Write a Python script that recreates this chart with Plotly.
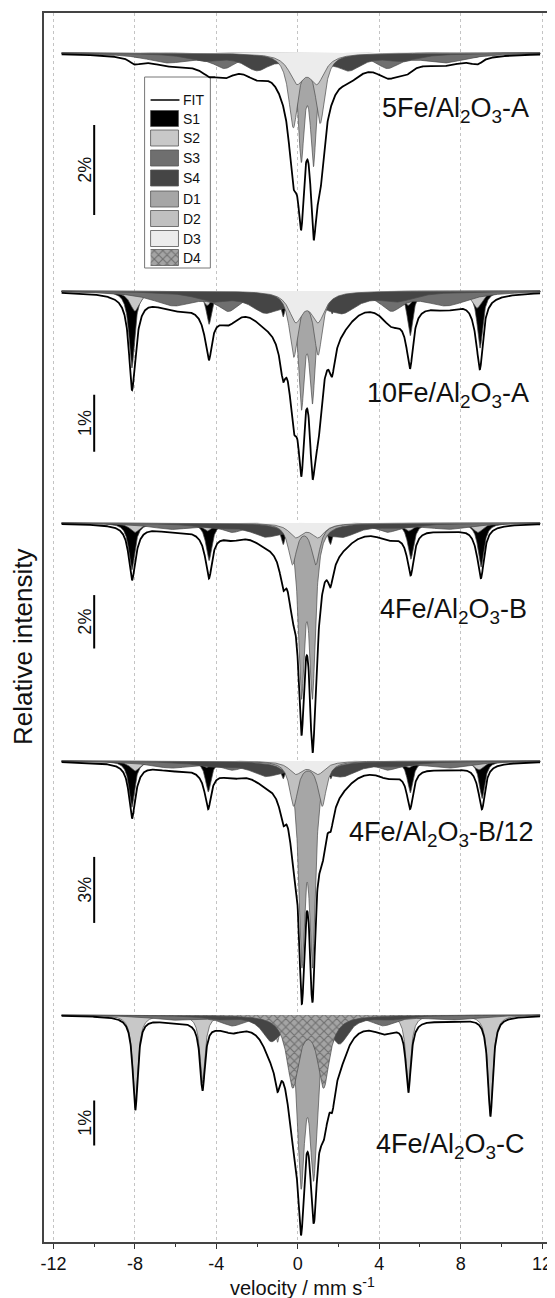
import numpy as np
import plotly.graph_objects as go

# ------------------------------------------------------------------
# Velocity sampling of the fitted spectra (mm/s)
V_START, V_END, N_POINTS = -11.6, 11.9, 1800

# Each component = list of Lorentzian lines: (position mm/s, depth %, FWHM mm/s)
# ---- 5Fe/Al2O3-A
A5_S1 = [(-8.1, 0.05, 0.4), (-4.4, 0.04, 0.4), (5.4, 0.04, 0.4), (8.9, 0.05, 0.4)]
A5_S2 = [(-7.9, 0.10, 0.8), (-4.3, 0.08, 0.8), (-0.7, 0.05, 0.6), (1.6, 0.05, 0.6), (5.2, 0.08, 0.8), (8.7, 0.10, 0.8)]
A5_S3 = [(-6.4, 0.20, 2.6), (-3.6, 0.30, 1.4), (-0.9, 0.12, 1.0), (1.7, 0.12, 1.0), (4.4, 0.30, 1.4), (7.2, 0.20, 2.6)]
A5_S4 = [(-4.6, 0.15, 2.0), (-2.0, 0.35, 1.6), (-0.6, 0.10, 1.0), (1.4, 0.10, 1.0), (2.5, 0.35, 1.6), (5.1, 0.15, 2.0)]
A5_D1 = [(0.17, 2.25, 0.35), (0.77, 2.35, 0.35)]
A5_D2 = [(-0.22, 1.6, 0.55), (1.10, 1.5, 0.55)]
A5_D3 = [(-0.05, 0.6, 0.9), (0.95, 0.6, 0.9)]

# ---- 10Fe/Al2O3-A
A10_S1 = [(-8.15, 1.35, 0.34), (-4.36, 0.58, 0.34), (-0.72, 0.45, 0.30), (1.68, 0.40, 0.30), (5.52, 0.78, 0.34), (8.95, 1.0, 0.34)]
A10_S2 = [(-8.0, 0.35, 0.6), (-4.45, 0.25, 0.6), (-0.8, 0.10, 0.5), (1.7, 0.10, 0.5), (5.42, 0.25, 0.6), (8.8, 0.30, 0.6)]
A10_S3 = [(-6.1, 0.24, 2.6), (-3.4, 0.30, 1.3), (-0.9, 0.20, 1.0), (1.7, 0.20, 1.0), (4.6, 0.30, 1.3), (7.3, 0.24, 2.6)]
A10_S4 = [(-4.2, 0.15, 2.0), (-1.6, 0.33, 1.8), (-0.6, 0.10, 1.0), (1.4, 0.10, 1.0), (2.2, 0.33, 1.8), (4.9, 0.15, 2.0)]
A10_D1 = [(0.18, 1.92, 0.35), (0.72, 1.80, 0.35)]
A10_D2 = [(-0.20, 1.12, 0.5), (1.00, 1.08, 0.5)]
A10_D3 = [(-0.10, 0.5, 0.8), (1.00, 0.5, 0.8)]

# ---- 4Fe/Al2O3-B
B4_S1 = [(-8.15, 1.75, 0.36), (-4.36, 1.4, 0.36), (-0.72, 0.8, 0.30), (1.60, 0.8, 0.30), (5.55, 1.35, 0.36), (9.0, 1.65, 0.36)]
B4_S2 = [(-8.0, 0.35, 0.6), (-4.45, 0.30, 0.6), (-0.8, 0.15, 0.5), (1.7, 0.15, 0.5), (5.45, 0.30, 0.6), (8.85, 0.35, 0.6)]
B4_S3 = [(-6.2, 0.22, 2.6), (-3.2, 0.30, 1.3), (-0.9, 0.25, 1.0), (1.8, 0.25, 1.0), (4.4, 0.30, 1.3), (7.4, 0.22, 2.6)]
B4_S4 = [(-4.2, 0.15, 2.0), (-1.6, 0.45, 1.8), (-0.6, 0.15, 1.0), (1.4, 0.15, 1.0), (2.2, 0.45, 1.8), (4.9, 0.15, 2.0)]
B4_D1 = [(0.18, 6.0, 0.36), (0.72, 6.0, 0.36)]
B4_D2 = [(-0.26, 1.5, 0.5), (0.88, 1.5, 0.5)]
B4_D3 = [(-0.10, 0.5, 0.8), (1.00, 0.5, 0.8)]

# ---- 4Fe/Al2O3-B/12
B12_S1 = [(-8.15, 2.1, 0.34), (-4.4, 1.4, 0.34), (-0.72, 0.8, 0.30), (1.62, 0.8, 0.30), (5.52, 1.45, 0.34), (9.05, 1.7, 0.34)]
B12_S2 = [(-8.0, 0.45, 0.6), (-4.5, 0.30, 0.6), (-0.8, 0.20, 0.5), (1.7, 0.20, 0.5), (5.45, 0.30, 0.6), (8.9, 0.40, 0.6)]
B12_S3 = [(-6.2, 0.30, 2.6), (-3.2, 0.35, 1.3), (-0.9, 0.30, 1.0), (1.8, 0.30, 1.0), (4.4, 0.35, 1.3), (7.4, 0.30, 2.6)]
B12_S4 = [(-4.2, 0.20, 2.0), (-1.6, 0.60, 1.8), (-0.6, 0.20, 1.0), (1.4, 0.20, 1.0), (2.2, 0.60, 1.8), (4.9, 0.20, 2.0)]
B12_D1 = [(0.20, 8.5, 0.36), (0.72, 8.5, 0.36)]
B12_D2 = [(-0.20, 2.0, 0.5), (1.20, 2.0, 0.5)]
B12_D3 = [(-0.10, 0.55, 0.8), (1.00, 0.55, 0.8)]

# ---- 4Fe/Al2O3-C
C4_S2 = [(-7.98, 2.05, 0.30), (-4.68, 1.5, 0.30), (-1.0, 0.6, 0.30), (1.7, 0.6, 0.30), (5.43, 1.55, 0.30), (9.46, 2.2, 0.30)]
C4_S3 = [(-6.2, 0.10, 2.6), (-3.2, 0.22, 1.4), (-0.9, 0.10, 1.0), (1.8, 0.10, 1.0), (4.2, 0.22, 1.4), (7.5, 0.10, 2.6)]
C4_S4 = [(-4.0, 0.08, 1.5), (-1.3, 0.55, 1.1), (-0.5, 0.10, 0.8), (1.3, 0.10, 0.8), (2.05, 0.60, 1.1), (4.6, 0.08, 1.5)]
C4_D1 = [(0.16, 3.5, 0.44), (0.78, 3.3, 0.44)]
C4_D4 = [(-0.245, 1.55, 0.7), (1.27, 1.55, 0.7)]

SAMPLE_LABELS = [
    "5Fe/Al<sub>2</sub>O<sub>3</sub>-A",
    "10Fe/Al<sub>2</sub>O<sub>3</sub>-A",
    "4Fe/Al<sub>2</sub>O<sub>3</sub>-B",
    "4Fe/Al<sub>2</sub>O<sub>3</sub>-B/12",
    "4Fe/Al<sub>2</sub>O<sub>3</sub>-C",
]
SCALE_BAR_PCT = [2, 1, 2, 3, 1]
COMPONENT_NAMES = ["S1", "S2", "S3", "S4", "D1", "D2", "D3", "D4"]
LEGEND_ENTRIES = ["FIT"] + COMPONENT_NAMES
X_TICKS = [-12, -8, -4, 0, 4, 8, 12]

SPECTRA = [
    {"S1": A5_S1, "S2": A5_S2, "S3": A5_S3, "S4": A5_S4, "D1": A5_D1, "D2": A5_D2, "D3": A5_D3},
    {"S1": A10_S1, "S2": A10_S2, "S3": A10_S3, "S4": A10_S4, "D1": A10_D1, "D2": A10_D2, "D3": A10_D3},
    {"S1": B4_S1, "S2": B4_S2, "S3": B4_S3, "S4": B4_S4, "D1": B4_D1, "D2": B4_D2, "D3": B4_D3},
    {"S1": B12_S1, "S2": B12_S2, "S3": B12_S3, "S4": B12_S4, "D1": B12_D1, "D2": B12_D2, "D3": B12_D3},
    {"S2": C4_S2, "S3": C4_S3, "S4": C4_S4, "D1": C4_D1, "D4": C4_D4},
]

# ------------------------------------------------------------------
# Layout / style.  Positions below are in page pixels of the 555 x 1298
# window; the html body adds an 8 px margin, so the figure is 547 x 1290.
PAGE_OFF = 8
W, H = 555 - PAGE_OFF, 1298 - PAGE_OFF
PA_L, PA_T, PA_R, PA_B = 44, 13, 555, 1242          # plot area (page px)
PLOT_W, PLOT_H = PA_R - PA_L, PA_B - PA_T
M_L, M_T = PA_L - PAGE_OFF, PA_T - PAGE_OFF
M_R, M_B = W - (PA_R - PAGE_OFF), H - (PA_B - PAGE_OFF)
X_RANGE = [-12.465, 12.535]
BASELINE_PX = [53, 291, 523, 761, 1015]
PX_PER_PCT = [45, 57, 26.7, 22, 45]
BAR_START_PCT = [1.6, 1.82, 2.7, 4.36, 1.9]
BAR_X = -10.0
BAR_LABEL_PX = 85
LABEL_PX = [(457, 110), (450, 395), (455, 611), (443, 834), (452, 1146)]
LEGEND_BOX_PX = (145, 77, 211, 268)
LEGEND_ROW_PX = [100, 118.5, 138, 158, 178, 199, 218.5, 238.5, 257.5]

FONT = "Liberation Sans, Arial, sans-serif"

COLORS = {"S1": "#000000", "S2": "#c8c8c8", "S3": "#6f6f6f", "S4": "#454545",
          "D1": "#a6a6a6", "D2": "#c0c0c0", "D3": "#ececec", "D4": "#9c9c9c"}
D4_PATTERN = dict(shape="x", bgcolor="#a4a4a4", fgcolor="#3c3c3c", size=6, solidity=0.35)
OUTLINE = dict(color="#4a4a4a", width=0.7)


def y_of_px(py):
    return PA_B - py


def xp(px):
    return (px - PA_L) / PLOT_W


def xv(px):
    return X_RANGE[0] + (px - PA_L) * (X_RANGE[1] - X_RANGE[0]) / PLOT_W


def lorentz(v, lines):
    out = np.zeros_like(v)
    for pos, depth, fwhm in lines:
        out += depth / (1.0 + ((v - pos) / (fwhm / 2.0)) ** 2)
    return out


v = np.linspace(V_START, V_END, N_POINTS)
fig = go.Figure()

for i, comps in enumerate(SPECTRA):
    base = y_of_px(BASELINE_PX[i])
    k = PX_PER_PCT[i]
    total = np.zeros_like(v)
    for name in COMPONENT_NAMES:
        if name not in comps:
            continue
        d = lorentz(v, comps[name])
        total += d
        xs = np.concatenate([[v[0]], v, [v[-1]]])
        ys = np.concatenate([[base], base - k * d, [base]])
        kw = dict(fillcolor=COLORS[name])
        if name == "D4":
            kw["fillpattern"] = D4_PATTERN
        fig.add_trace(go.Scatter(
            x=xs, y=ys, mode="lines", fill="toself", line=OUTLINE,
            name=name, showlegend=False, hoverinfo="skip", **kw))
    fig.add_trace(go.Scatter(
        x=v, y=base - k * total, mode="lines",
        line=dict(color="#000000", width=1.8),
        name="FIT", showlegend=False, hoverinfo="skip"))

    # scale bar
    y0 = base - k * BAR_START_PCT[i]
    y1 = y0 - k * SCALE_BAR_PCT[i]
    fig.add_shape(type="line", x0=BAR_X, x1=BAR_X, y0=y0, y1=y1,
                  line=dict(color="#000000", width=2))
    fig.add_annotation(xref="paper", x=xp(BAR_LABEL_PX), y=(y0 + y1) / 2,
                       text=f"{SCALE_BAR_PCT[i]}%",
                       textangle=-90, showarrow=False, xanchor="center", yanchor="middle",
                       font=dict(family=FONT, size=18, color="#111"))
    # sample label
    lx, ly = LABEL_PX[i]
    fig.add_annotation(xref="paper", x=xp(lx), y=y_of_px(ly),
                       text=SAMPLE_LABELS[i], showarrow=False,
                       xanchor="center", yanchor="middle",
                       font=dict(family=FONT, size=27, color="#111"))

# ---- legend box (drawn in the plot, as in the original figure)
bx0, by0, bx1, by1 = LEGEND_BOX_PX
fig.add_shape(type="rect", xref="paper", x0=xp(bx0), x1=xp(bx1),
              y0=y_of_px(by0), y1=y_of_px(by1), layer="below",
              fillcolor="white", line=dict(color="#777", width=1))
for name, ry in zip(LEGEND_ENTRIES, LEGEND_ROW_PX):
    if name == "FIT":
        fig.add_shape(type="line", xref="paper", x0=xp(151), x1=xp(180),
                      y0=y_of_px(ry), y1=y_of_px(ry), line=dict(color="#111", width=1.6))
    elif name == "D4":
        sx = [xv(151), xv(179), xv(179), xv(151)]
        sy = [y_of_px(ry - 8), y_of_px(ry - 8), y_of_px(ry + 8), y_of_px(ry + 8)]
        fig.add_trace(go.Scatter(x=sx, y=sy, mode="lines", fill="toself",
                                 fillcolor=COLORS[name], fillpattern=D4_PATTERN,
                                 line=OUTLINE, showlegend=False, hoverinfo="skip"))
    else:
        fig.add_shape(type="rect", xref="paper", x0=xp(151), x1=xp(179),
                      y0=y_of_px(ry - 8), y1=y_of_px(ry + 8),
                      fillcolor=COLORS[name], line=dict(color="#555", width=0.8))
    fig.add_annotation(xref="paper", x=xp(182), y=y_of_px(ry), text=name,
                       showarrow=False, xanchor="left", yanchor="middle",
                       font=dict(family=FONT, size=14, color="#111"))

fig.add_annotation(xref="paper", x=xp(23), y=y_of_px(647),
                   text="Relative intensity", textangle=-90, showarrow=False,
                   xanchor="center", yanchor="middle",
                   font=dict(family=FONT, size=26, color="#111"))
fig.add_annotation(xref="paper", yref="paper", x=xp(304), y=-(1286 - PA_B) / PLOT_H,
                   text="velocity / mm s<sup>-1</sup>", showarrow=False,
                   xanchor="center", yanchor="middle",
                   font=dict(family=FONT, size=20, color="#111"))

fig.update_layout(
    width=W, height=H,
    margin=dict(l=M_L, r=M_R, t=M_T, b=M_B, pad=0),
    paper_bgcolor="white", plot_bgcolor="white",
    font=dict(family=FONT, color="#111"),
    showlegend=False,
    xaxis=dict(range=X_RANGE, tickvals=X_TICKS, ticktext=[str(t) for t in X_TICKS],
               showgrid=True, gridcolor="#c4c4c4", griddash="dot", gridwidth=1,
               zeroline=False, showline=True, linecolor="#444", linewidth=1.6, mirror=True,
               ticks="outside", ticklen=5, tickwidth=1.2, tickcolor="#333",
               ticklabelstandoff=0,
               minor=dict(dtick=2, tick0=-12, ticks="outside", ticklen=3, tickcolor="#333",
                          showgrid=False),
               tickfont=dict(family=FONT, size=18, color="#111")),
    yaxis=dict(range=[0, PLOT_H], showticklabels=False, showgrid=False, zeroline=False,
               ticks="", showline=True, linecolor="#444", linewidth=1.6, mirror=True),
)

fig.write_html("out.html")
